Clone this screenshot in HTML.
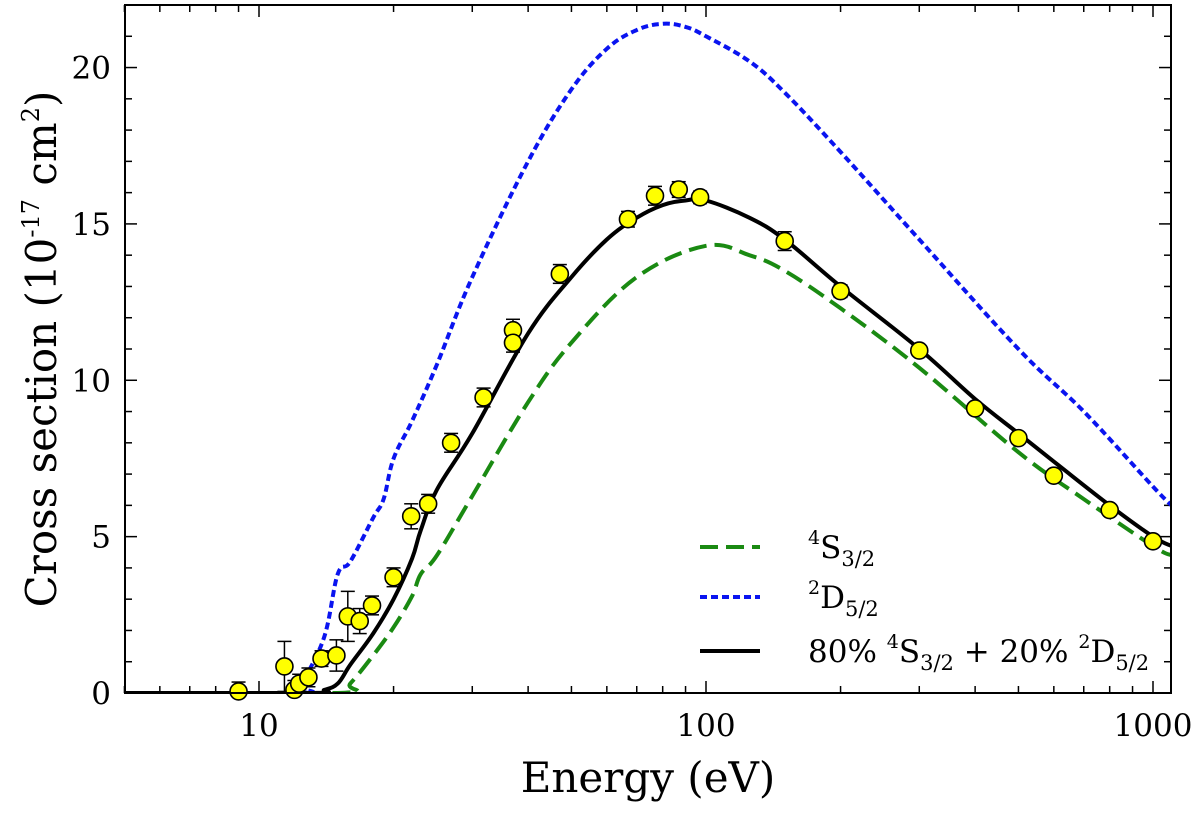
<!DOCTYPE html>
<html><head><meta charset="utf-8"><style>
body{margin:0;background:#fff;}
svg{display:block;font-family:"DejaVu Serif","Liberation Serif",serif;}
</style></head><body>
<svg id="chart" width="1200" height="818"></svg>
<script>
const expE=[9,11.4,12,12.3,12.9,13.8,14.9,15.8,16.8,17.9,20,21.9,23.9,26.9,31.8,37,37,47.1,66.9,76.9,86.9,97,150,200,300,400,500,600,800,1000];
const expY=[0.05,0.85,0.1,0.3,0.5,1.1,1.2,2.45,2.3,2.8,3.7,5.65,6.05,8.0,9.45,11.6,11.2,13.4,15.15,15.9,16.1,15.85,14.45,12.85,10.95,9.1,8.15,6.95,5.85,4.85];
const expErr=[0.3,0.8,0.3,0.3,0.3,0.25,0.5,0.8,0.4,0.3,0.3,0.4,0.3,0.3,0.3,0.35,0.3,0.3,0.25,0.3,0.25,0.2,0.3,0.2,0.15,0.15,0.15,0.15,0.15,0.15];
const mixE=[5,13,14,15,16,18,20,22,23,25,30,40,50,60,70,80,90,100,125,150,200,300,400,500,600,800,1000,1100];
const mixY=[0,0,0.1,0.3,0.9,1.9,3.0,4.3,5.2,6.5,8.3,11.5,13.3,14.5,15.2,15.6,15.75,15.75,15.2,14.5,13.0,11.0,9.4,8.3,7.4,6.0,5.0,4.7];
const sE=[5,15,16,18,20,22,23,25,30,40,50,70,100,125,150,200,300,500,700,1000,1100];
const sY=[0,0,0.3,1.2,2.1,3.1,3.8,4.4,6.3,9.3,11.2,13.3,14.3,14.0,13.5,12.3,10.4,7.7,6.2,4.7,4.4];
const dE=[5,12.3,12.5,14,15,16,18,19,20,22,25,30,40,50,60,70,80,90,100,125,150,200,300,500,700,1000,1100];
const dY=[0,0,0.3,1.8,3.8,4.2,5.6,6.2,7.5,8.7,10.5,13.3,17,19.3,20.6,21.2,21.4,21.3,21.0,20.2,19.2,17.3,14.5,11.0,9.0,6.6,6.0];
const yTicks=[0,5,10,15,20];
const xTicks=[10,100,1000];

const NS="http://www.w3.org/2000/svg";
const svg=document.getElementById('chart');
const L=125,R=1171,T=5,B=693;
const X=e=>259+447*(Math.log10(e)-1);
const Y=v=>B-(v/22)*(B-T);
function mk(tag,attrs,parent){const el=document.createElementNS(NS,tag);for(const k in attrs)el.setAttribute(k,attrs[k]);(parent||svg).appendChild(el);return el;}

const clip=mk('clipPath',{id:'pc'});mk('rect',{x:L,y:T,width:R-L,height:B-T},clip);

const tg=mk('g',{stroke:'#000','stroke-width':1.5});


for(let v=0;v<=22;v++){const len=v%5===0?12:7;const y=Y(v);
 mk('line',{x1:L,y1:y,x2:L+len,y2:y},tg);mk('line',{x1:R,y1:y,x2:R-len,y2:y},tg);}
for(let d=1;d<=1000;d*=10){for(let m=1;m<=9;m++){const e=d*m;if(e<5||e>1100)continue;const x=X(e);const len=m===1?12:7;
 mk('line',{x1:x,y1:B,x2:x,y2:B-len},tg);mk('line',{x1:x,y1:T,x2:x,y2:T+len},tg);}}
yTicks.forEach(v=>{const t=mk('text',{x:L-14,y:Y(v)+11,'text-anchor':'end','font-size':31});t.textContent=v;
 });
xTicks.forEach(v=>{const t=mk('text',{x:X(v),y:736,'text-anchor':'middle','font-size':31});t.textContent=v;
 });

function path(E,V,attrs,name){
 const P=E.map((e,i)=>[X(e),Y(V[i])]);
 let d='M'+P[0][0].toFixed(1)+','+P[0][1].toFixed(1);
 for(let i=0;i<P.length-1;i++){const p0=P[Math.max(0,i-1)],p1=P[i],p2=P[i+1],p3=P[Math.min(P.length-1,i+2)];
  const t=0.18;
  const c1=[p1[0]+(p2[0]-p0[0])*t,p1[1]+(p2[1]-p0[1])*t];
  const c2=[p2[0]-(p3[0]-p1[0])*t,p2[1]-(p3[1]-p1[1])*t];
  c1[1]=Math.min(c1[1],B);c2[1]=Math.min(c2[1],B);
  d+='C'+c1[0].toFixed(1)+','+c1[1].toFixed(1)+' '+c2[0].toFixed(1)+','+c2[1].toFixed(1)+' '+p2[0].toFixed(1)+','+p2[1].toFixed(1);}
 const p=mk('path',Object.assign({d:d,fill:'none','clip-path':'url(#pc)'},attrs));
 }
path(dE,dY,{stroke:'#0a14f0','stroke-width':4,'stroke-dasharray':'7,4'},'series-2D52');
path(sE,sY,{stroke:'#1a8a12','stroke-width':4,'stroke-dasharray':'18,8'},'series-4S32');
path(mixE,mixY,{stroke:'#000','stroke-width':4},'series-mixture');

const pg=mk('g',{});


expE.forEach((e,i)=>{const x=X(e),y=Y(expY[i]),y1=Y(expY[i]+expErr[i]),y2=Y(Math.max(0,expY[i]-expErr[i]));
 mk('line',{x1:x,y1:y1,x2:x,y2:y2,stroke:'#000','stroke-width':1.5},pg);
 mk('line',{x1:x-7,y1:y1,x2:x+7,y2:y1,stroke:'#000','stroke-width':1.5},pg);
 mk('line',{x1:x-7,y1:y2,x2:x+7,y2:y2,stroke:'#000','stroke-width':1.5},pg);});
expE.forEach((e,i)=>{const c=mk('circle',{cx:X(e),cy:Y(expY[i]),r:8.5,fill:'#ffff00',stroke:'#000','stroke-width':1.6},pg);
 });

const frame=mk('rect',{x:L,y:T,width:R-L,height:B-T,fill:'none',stroke:'#000','stroke-width':2});

</script>
<svg width="1200" height="818" style="position:absolute;left:0;top:0;font-family:'DejaVu Serif','Liberation Serif',serif">
<text x="648" y="792" text-anchor="middle" font-size="42">Energy (eV)</text>
<text transform="translate(56,349) rotate(-90)" text-anchor="middle" font-size="42">Cross section (10<tspan font-size="24" dy="-17">-17</tspan><tspan dy="17"> cm</tspan><tspan font-size="24" dy="-17">2</tspan><tspan dy="17">)</tspan></text>
<g font-size="31">
<line x1="700" y1="547" x2="760" y2="547" stroke="#1a8a12" stroke-width="4" stroke-dasharray="18,8"/>
<text x="808" y="558"><tspan font-size="19" dy="-14">4</tspan><tspan dy="14">S</tspan><tspan font-size="21" dy="8">3/2</tspan></text>
<line x1="700" y1="597" x2="760" y2="597" stroke="#0a14f0" stroke-width="4" stroke-dasharray="7,4"/>
<text x="808" y="608"><tspan font-size="19" dy="-14">2</tspan><tspan dy="14">D</tspan><tspan font-size="21" dy="8">5/2</tspan></text>
<line x1="700" y1="651" x2="760" y2="651" stroke="#000" stroke-width="4"/>
<text x="808" y="662">80% <tspan font-size="19" dy="-14">4</tspan><tspan dy="14">S</tspan><tspan font-size="21" dy="8">3/2</tspan><tspan dy="-8"> + 20% </tspan><tspan font-size="19" dy="-14">2</tspan><tspan dy="14">D</tspan><tspan font-size="21" dy="8">5/2</tspan></text>
</g>
</svg>
</body></html>
